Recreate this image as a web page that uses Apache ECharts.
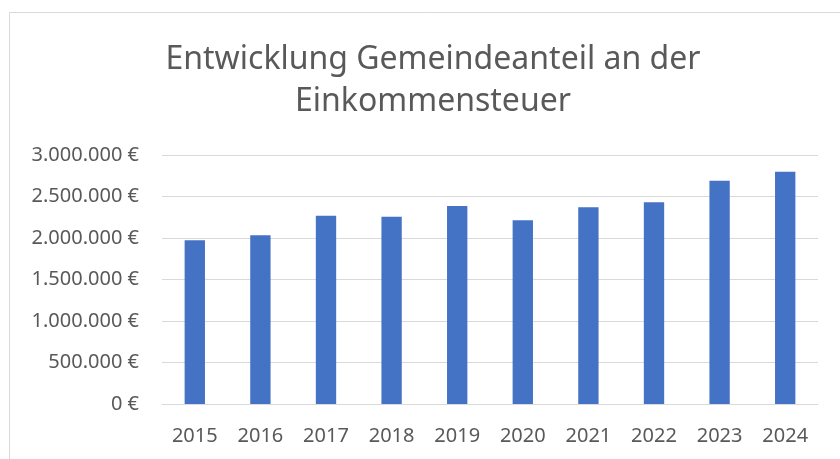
<!DOCTYPE html>
<html>
<head>
<meta charset="utf-8">
<script src="https://cdn.jsdelivr.net/npm/echarts@6/dist/echarts.min.js"></script>
<style>
  html, body { margin: 0; padding: 0; background: #fff; }
  #chart { width: 840px; height: 459px; }
</style>
</head>
<body>
<div id="chart"></div>
<script>
// Jahre und Gemeindeanteil (Euro)
const years = ['2015', '2016', '2017', '2018', '2019', '2020', '2021', '2022', '2023', '2024']
const anteil = [1972000, 2033000, 2269000, 2257000, 2386000, 2213000, 2370000, 2430000, 2690000, 2799000]
const yTicks = [0, 500000, 1000000, 1500000, 2000000, 2500000, 3000000]

const textColor = '#595959'
const fontFamily = '"Noto Sans", "Open Sans", sans-serif'

const formatEuro = (v) => String(v).replace(/\B(?=(\d{3})+(?!\d))/g, '.') + ' €'

const chart = echarts.init(document.getElementById('chart'))

chart.setOption({
  animation: false,
  textStyle: { fontFamily },
  graphic: [{
    type: 'rect',
    left: 7,
    top: 10,
    shape: { width: 900, height: 500 },
    style: { fill: 'none', stroke: '#d9d9d9', lineWidth: 1 },
    silent: true
  }],
  title: {
    text: 'Entwicklung Gemeindeanteil an der\nEinkommensteuer',
    left: 428,
    top: 34,
    textAlign: 'center',
    textStyle: {
      fontFamily,
      fontSize: 32,
      fontWeight: 'normal',
      color: textColor,
      lineHeight: 42
    }
  },
  grid: {
    left: 162,
    right: 22,
    top: 155,
    bottom: 55
  },
  xAxis: {
    type: 'category',
    data: years,
    axisTick: { show: false },
    axisLine: { lineStyle: { color: '#d9d9d9', width: 1 } },
    axisLabel: { color: textColor, fontSize: 20, margin: 22, fontFamily }
  },
  yAxis: {
    type: 'value',
    min: yTicks[0],
    max: yTicks[yTicks.length - 1],
    interval: yTicks[1] - yTicks[0],
    axisLine: { show: false },
    axisTick: { show: false },
    splitLine: { lineStyle: { color: '#d9d9d9', width: 1 } },
    axisLabel: {
      color: textColor,
      fontSize: 20,
      margin: 23,
      fontFamily,
      formatter: formatEuro
    }
  },
  series: [{
    type: 'bar',
    data: anteil,
    barWidth: '31%',
    itemStyle: { color: '#4472C4' }
  }]
})
</script>
</body>
</html>
